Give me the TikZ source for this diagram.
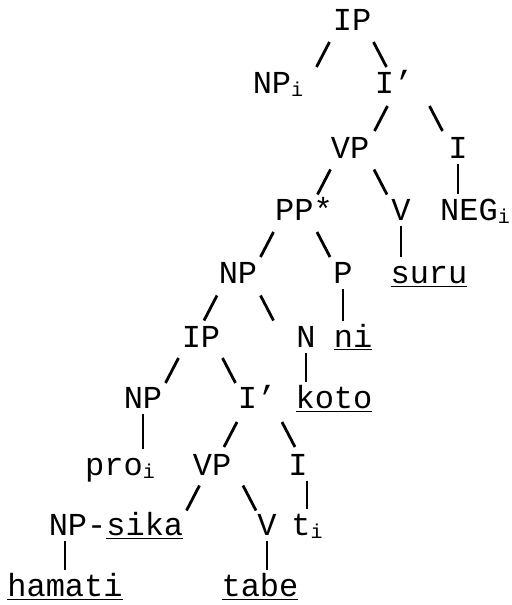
\documentclass[tikz,border=0pt]{standalone}
\usepackage{fontspec}
\setmainfont{Liberation Mono}
\usetikzlibrary{calc}

\newcommand{\idx}[1]{\raisebox{-1.5pt}{\fontsize{10}{10}\selectfont #1}}

\begin{document}
\begin{tikzpicture}[
    x=0.5pt,
    y=-0.5pt,
    font=\fontsize{16}{18}\selectfont,
    line width=1.4pt,
    every node/.style={
      anchor=base,
      inner sep=0pt,
      text height=9pt,
      text depth=2pt
    },
    lbr/.style={to path={($(\tikztostart)!.5!(\tikztotarget)$) ++(#1+6.5,-12.5) -- ++(-13,25)}},
    lbr/.default=0,
    rbr/.style={to path={($(\tikztostart)!.5!(\tikztotarget)$) ++(#1-6.5,-12.5) -- ++(13,25)}},
    rbr/.default=0,
    stemline/.style={shorten <=0.5pt, shorten >=3.5pt}
    ]

    \useasboundingbox (0,0) rectangle (512,605);

    \node (ip1) at (352,30) {IP};
    \node (np1) at (278,93) {NP\idx{i}};
    \node (ibar1) at (394,93) {I’};
    \node (vp1) at (350,158) {VP};
    \node (i1) at (458,158) {I};
    \node (pp) at (304,220) {PP*};
    \node (v1) at (401,220) {V};
    \node (neg) at (475,220) {NEG\idx{i}};
    \node (np2) at (238,283) {NP};
    \node (p) at (343,283) {P};
    \node (suru) at (429,283) {\underline{suru}};
    \node (ip2) at (201,347) {IP};
    \node (n) at (306,347) {N};
    \node (ni) at (353,347) {\underline{ni}};
    \node (np3) at (143,408) {NP};
    \node (ibar2) at (257,408) {I’};
    \node (koto) at (334,408) {\underline{koto}};
    \node (pro) at (120,475) {pro\idx{i}};
    \node (vp2) at (212,475) {VP};
    \node (i2) at (298,475) {I};
    \node (npsika) at (116,535) {NP-\underline{sika}};
    \node (v2) at (267,535) {V};
    \node (t) at (307,535) {t\idx{i}};
    \node (hamati) at (65,596) {\underline{hamati}};
    \node (tabe) at (260,596) {\underline{tabe}};

    \draw (ip1) to[lbr=8] (np1);
    \draw (ip1) to[rbr=7] (ibar1);
    \draw (ibar1) to[lbr=9] (vp1);
    \draw (ibar1) to[rbr=10] (i1);
    \draw (vp1) to[lbr=-3] (pp);
    \draw (vp1) to[rbr=5] (v1);
    \draw (pp) to[lbr=-4] (np2);
    \draw (pp) to[rbr] (p);
    \draw (np2) to[lbr=-9] (ip2);
    \draw (np2) to[rbr=-5] (n);
    \draw (ip2) to[lbr] (np3);
    \draw (ip2) to[rbr] (ibar2);
    \draw (ibar2) to[lbr=-4] (vp2);
    \draw (ibar2) to[rbr=11] (i2);
    \draw (vp2) to[lbr=29] (npsika);
    \draw (vp2) to[rbr=10] (v2);

    \draw[stemline] (i1.south) -- (i1.south |- neg.north);
    \draw[stemline] (v1.south) -- (v1.south |- suru.north);
    \draw[stemline] (p.south) -- (p.south |- ni.north);
    \draw[stemline] (n.south) -- (n.south |- koto.north);
    \draw[stemline] (np3.south) -- (np3.south |- pro.north);
    \draw[stemline] (t.north |- i2.south) -- (t.north);
    \draw[stemline] (hamati.north |- npsika.south) -- (hamati.north);
    \draw[stemline] (v2.south) -- (v2.south |- tabe.north);

\end{tikzpicture}
\end{document}
